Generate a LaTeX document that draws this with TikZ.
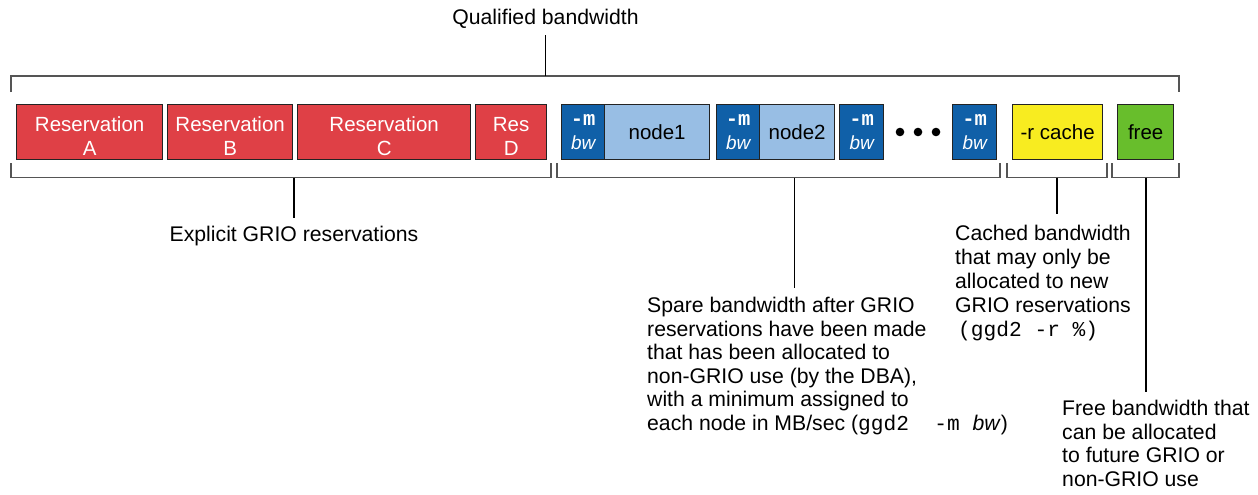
\documentclass[tikz,border=0pt]{standalone}
\usepackage{fontspec}
\setmainfont{Liberation Sans}
\setmonofont{Liberation Mono}
\definecolor{resred}{RGB}{223,64,70}
\definecolor{mblue}{RGB}{16,96,168}
\definecolor{nblue}{RGB}{152,190,228}
\definecolor{cacheyellow}{RGB}{248,236,32}
\definecolor{freegreen}{RGB}{104,190,44}
\definecolor{edge}{RGB}{35,35,35}
\definecolor{brk}{RGB}{85,85,85}
\begin{document}
\begin{tikzpicture}[x=1pt,y=-1pt,
  cell/.style={draw=edge, line width=1.3pt, inner sep=0pt, minimum height=55pt,
    anchor=north west, align=center, font=\fontsize{20.5}{24.5}\selectfont},
  redcell/.style={cell, fill=resred, text=white},
  mcell/.style={cell, fill=mblue, text=white, minimum width=43pt},
  ncell/.style={cell, fill=nblue, text=black},
  bracket/.style={draw=brk, line width=1.4pt},
  tick/.style={draw=black, line width=1.3pt},
  lbl/.style={font=\fontsize{21.2}{23.5}\selectfont, align=left, inner xsep=0pt},
  dot/.style={circle, fill=black, inner sep=0pt, minimum size=8.6pt}
]
\useasboundingbox (0,0) rectangle (1258,495);

% explicit reservations (the strut drops the two lines a little below centre)
\newcommand{\resline}[2]{\rule{0pt}{23pt}#1\\#2}
\node[redcell, minimum width=146pt] (resA) at (16,104) {\resline{Reservation}{A}};
\node[redcell, minimum width=125pt] (resB) at (167,104) {\resline{Reservation}{B}};
\node[redcell, minimum width=173pt] (resC) at (297,104) {\resline{Reservation}{C}};
\node[redcell, minimum width=71pt]  (resD) at (475,104) {\resline{Res}{D}};

% per-node minimum bandwidth
\newcommand{\mbw}{{\bfseries\ttfamily -m}\\[-1pt]{\fontsize{19}{23}\selectfont\itshape bw}}
\node[mcell] (m1) at (561,104) {\mbw};
\node[ncell, minimum width=105pt] (n1) at (604,104) {node1};
\node[mcell] (m2) at (716,104) {\mbw};
\node[ncell, minimum width=75pt] (n2) at (759,104) {node2};
\node[mcell, minimum width=44pt] (m3) at (839,104) {\mbw};
\node[dot] (d1) at (900,132) {};
\node[dot] (d2) at (918,132) {};
\node[dot] (d3) at (936,132) {};
\node[mcell, minimum width=44pt] (m4) at (952,104) {\mbw};

% cache and free
\node[cell, fill=cacheyellow, minimum width=90pt] (cache) at (1012,104) {-r cache};
\node[cell, fill=freegreen, minimum width=56pt] (free) at (1117,104) {free};

% brackets
\draw[bracket] (11,92) -- (11,76) -- (1179,76) -- (1179,92);
\draw[bracket] (11,163) -- (11,177.7) -- (551,177.7) -- (551,163);
\draw[bracket] (557,163) -- (557,177.7) -- (1000,177.7) -- (1000,163);
\draw[bracket] (1007,163) -- (1007,177.7) -- (1107,177.7) -- (1107,163);
\draw[bracket] (1112,163) -- (1112,177.7) -- (1179,177.7) -- (1179,163);

\coordinate (qtick) at (545.5,76);
\coordinate (etick) at (294,177.7);
\coordinate (stick) at (794.5,177.7);
\coordinate (ctick) at (1057,177.7);
\coordinate (ftick) at (1146,177.7);

% labels
\node[lbl, anchor=south, inner ysep=6pt] (qual) at (545.5,35) {Qualified bandwidth};
\node[lbl, anchor=north, inner ysep=8pt] (expl) at (294,218) {Explicit GRIO reservations};
\node[lbl, anchor=north west, inner ysep=9pt] (spare) at (647,288)
  {Spare bandwidth after GRIO\\
   reservations have been made\\
   that has been allocated to\\
   non-GRIO use (by the DBA),\\
   with a minimum assigned to\\
   each node in MB/sec ({\ttfamily ggd2~~-m~}\textit{bw})};
\node[lbl, font=\fontsize{21.2}{24}\selectfont, anchor=north west, inner ysep=11pt] (cached) at (955,214)
  {Cached bandwidth\\
   that may only be\\
   allocated to new\\
   GRIO reservations\\
   \hspace{3pt}{\ttfamily (ggd2 -r \%)}};
\node[lbl, anchor=north west, inner ysep=8pt] (freetxt) at (1062,392)
  {Free bandwidth that\\
   can be allocated\\
   to future GRIO or\\
   non-GRIO use};

% leader lines
\draw[tick] (qtick) -- (qual.south);
\draw[tick] (etick) -- (expl.north);
\draw[tick] (stick) -- (stick |- spare.north);
\draw[tick] (ctick) -- (ctick |- cached.north);
\draw[tick] (ftick) -- (ftick |- freetxt.north);
\end{tikzpicture}
\end{document}
